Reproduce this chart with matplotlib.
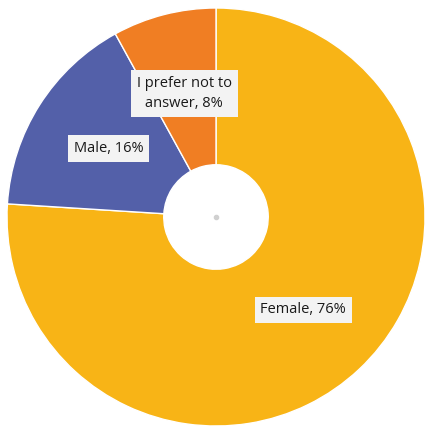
import matplotlib
matplotlib.use('Agg')
import matplotlib.pyplot as plt

labels = ['Female', 'Male', 'I prefer not to\nanswer']
values = [76, 16, 8]
colors = ['#F8B416', '#5360A9', '#F07E23']

plt.rcParams['font.family'] = ['Open Sans', 'DejaVu Sans']

fig = plt.figure(figsize=(4.25, 4.29), dpi=100)
ax = fig.add_axes([0, 0, 1, 1])

texts = [f'{l}, {v}%' for l, v in zip(labels, values)]
wedges, lbls = ax.pie(values, labels=texts, colors=colors, startangle=90,
                      counterclock=False, labeldistance=0.61,
                      wedgeprops=dict(width=0.75, edgecolor='white', linewidth=1))
for t in lbls:
    t.set_ha('center')
    t.set_va('center')
    t.set_fontsize(10.5)
    t.set_color('#1a1a1a')
    t.set_multialignment('center')
    t.set_linespacing(1.4)
    t.set_bbox(dict(boxstyle='square,pad=0.4', facecolor='#F3F3F3', edgecolor='none'))

ax.plot(0, 0, 'o', ms=3, color='#d0d0d0')

r = 209.0
ax.set_xlim(-216 / r, (425 - 216) / r)
ax.set_ylim(-(429 - 217) / r, 217 / r)
ax.set_aspect('auto')
ax.axis('off')

fig.savefig('out.png', dpi=100)
